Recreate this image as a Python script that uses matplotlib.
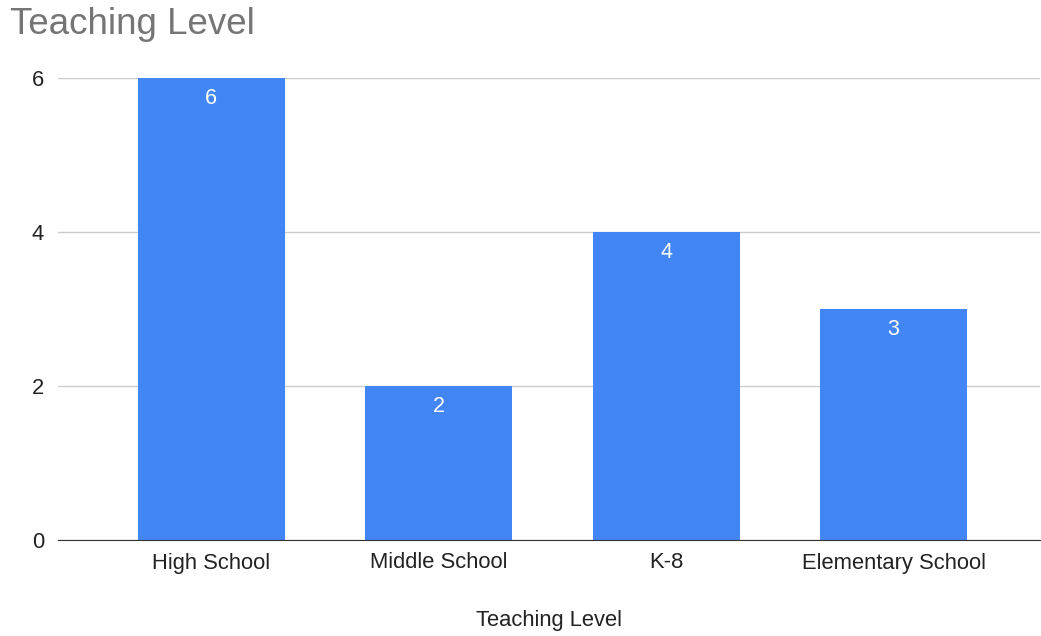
import matplotlib.pyplot as plt

plt.rcParams['font.family'] = ['Liberation Sans', 'DejaVu Sans']

levels = ['High School', 'Middle School', 'K-8', 'Elementary School']
counts = [6, 2, 4, 3]
yticks = [0, 2, 4, 6]

fig = plt.figure(figsize=(10.41, 6.36), dpi=100)
ax = fig.add_axes([58 / 1041, 1 - 540 / 636, 982 / 1041, 462 / 636])

bars = ax.bar(range(len(levels)), counts, width=0.646, color='#4285f4', zorder=3)

for rect, val in zip(bars, counts):
    ax.annotate(str(val), (rect.get_x() + rect.get_width() / 2, rect.get_height()),
                xytext=(0, -15), textcoords='offset points', ha='center', va='center',
                color='white', fontsize=15.5)

ax.set_xlim(-0.673, 3.644)
ax.set_ylim(0, 6)
ax.set_yticks(yticks)
ax.set_xticks(range(len(levels)))
ax.set_xticklabels(levels)
ax.tick_params(axis='both', length=0, labelsize=15.8, colors='#222222')
ax.tick_params(axis='y', pad=10)
ax.tick_params(axis='x', pad=9)
ax.grid(axis='y', color='#cccccc', linewidth=1, zorder=0)

for side in ['top', 'right', 'left']:
    ax.spines[side].set_visible(False)
ax.spines['bottom'].set_color('#333333')
ax.spines['bottom'].set_zorder(4)

ax.set_xlabel('Teaching Level', fontsize=15.8, color='#222222', labelpad=26)
fig.text(10 / 1041, 1 - 25 / 636, 'Teaching Level', fontsize=26.5, color='#757575',
         ha='left', va='center')

fig.savefig('out.png', dpi=100)
